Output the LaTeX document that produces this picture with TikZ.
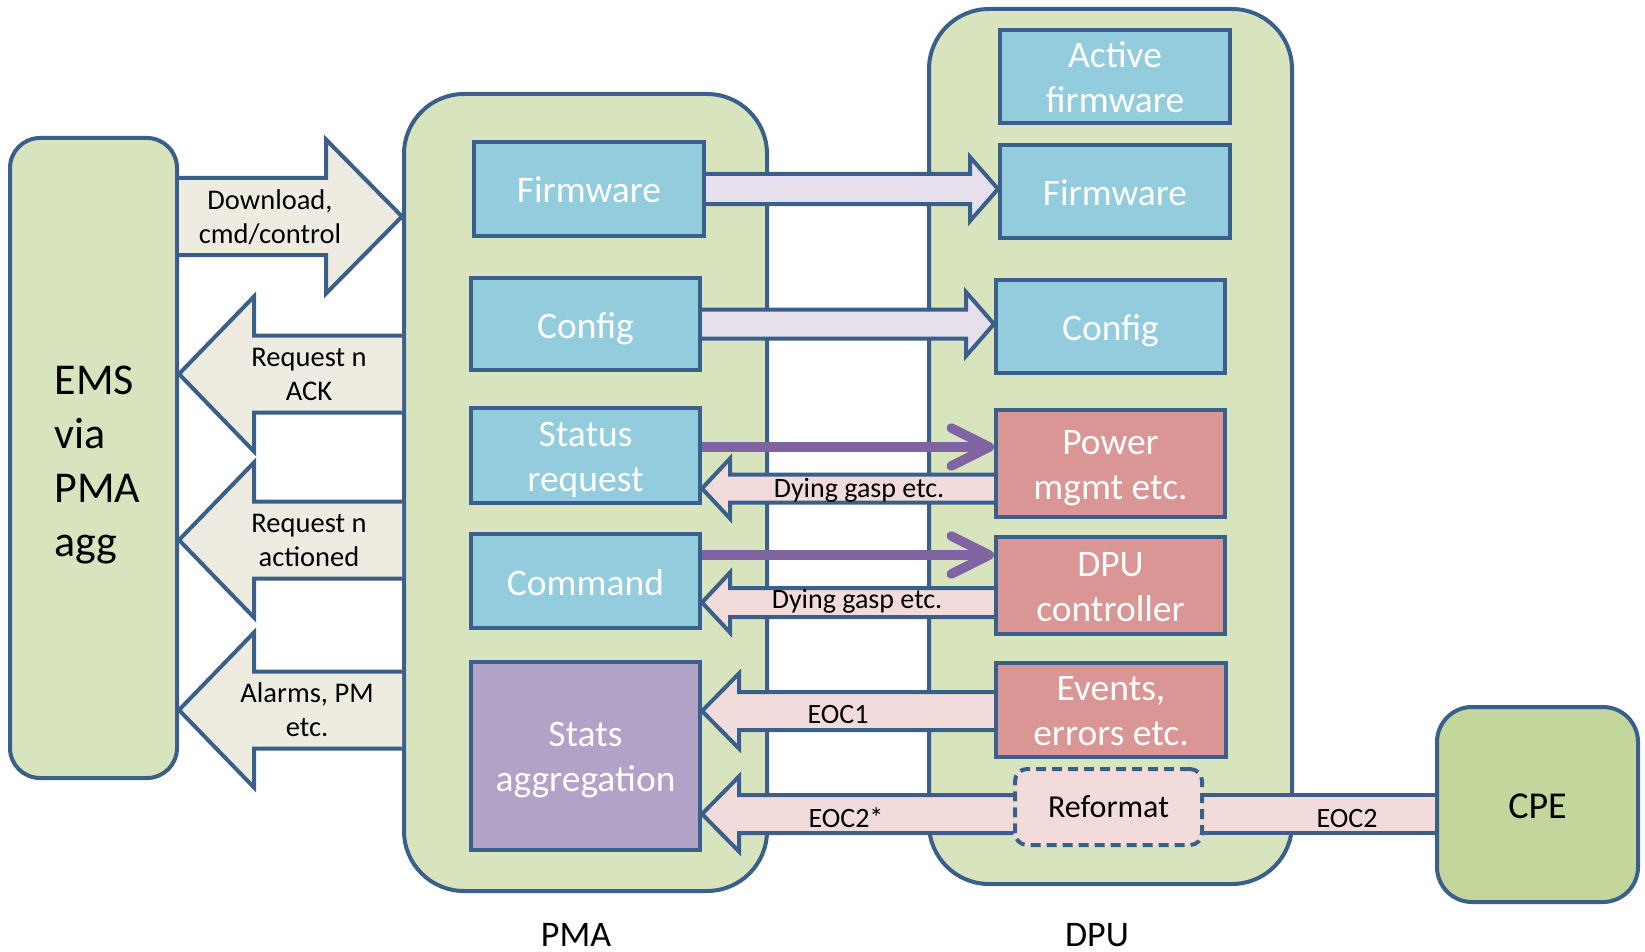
\documentclass[tikz,border=0pt]{standalone}
\usepackage{fontspec}
\setmainfont{Carlito}
\usetikzlibrary{calc,arrows.meta}

\definecolor{edge}{HTML}{3A5F8B}
\definecolor{paleGreen}{HTML}{D7E4BD}
\definecolor{cpeGreen}{HTML}{C3D69B}
\definecolor{aqua}{HTML}{93CDDD}
\definecolor{roseBox}{HTML}{D99694}
\definecolor{lilacBox}{HTML}{B3A2C7}
\definecolor{beige}{HTML}{EEECE1}
\definecolor{blush}{HTML}{F2DCDB}
\definecolor{lavender}{HTML}{E6E0EC}
\definecolor{violet}{HTML}{8064A2}

\pgfdeclarelayer{back}
\pgfdeclarelayer{mid}
\pgfsetlayers{back,mid,main}

\tikzset{
  container/.style={draw=edge, line width=4pt, fill=paleGreen, rounded corners=60pt, inner sep=0pt},
  unit/.style={draw=edge, line width=4pt, inner sep=0pt, minimum width=230pt, text=white,
    align=center, font=\fontsize{37.5}{45}\selectfont},
  % fixed line metrics so that every box label sits at the same height
  oneline/.style={execute at begin node={\rule{0pt}{37pt}}, execute at end node={\rule[-9pt]{0pt}{0pt}}},
  twoline/.style={execute at begin node={\rule{0pt}{80.6pt}}, execute at end node={\rule[-9pt]{0pt}{0pt}}},
  outline/.style={draw=edge, line width=4pt},
  biglabel/.style={align=center, inner sep=0pt, font=\fontsize{28.5}{34}\selectfont},
  smalllabel/.style={anchor=base, inner sep=0pt, font=\fontsize{28}{34}\selectfont},
  signal/.style={draw=violet, line width=9.5pt, -{Straight Barb[length=38pt,width=38pt,round]}},
  caption/.style={anchor=base, inner sep=0pt, font=\fontsize{36}{43}\selectfont},
}

% block arrow: #1 fill, #2 tail, #3 tip, #4 half shaft, #5 half head, #6 head length
\newcommand\blockarrow[6]{%
  \coordinate (ba-b) at ($(#3)!#6!(#2)$);
  \fill[#1] ($(#2)!#4!90:(#3)$) -- ($(ba-b)!#4!90:(#3)$) -- ($(ba-b)!#5!90:(#3)$) -- (#3)
    -- ($(ba-b)!#5!-90:(#3)$) -- ($(ba-b)!#4!-90:(#3)$) -- ($(#2)!#4!-90:(#3)$) -- cycle;
  \draw[outline] ($(#2)!#4!90:(#3)$) -- ($(ba-b)!#4!90:(#3)$) -- ($(ba-b)!#5!90:(#3)$) -- (#3)
    -- ($(ba-b)!#5!-90:(#3)$) -- ($(ba-b)!#4!-90:(#3)$) -- ($(#2)!#4!-90:(#3)$);
}

\begin{document}
\begin{tikzpicture}[x=1pt,y=-1pt]
\useasboundingbox (0,0) rectangle (1645,952);

% outer blocks
\begin{pgfonlayer}{back}
  \node[container, minimum width=167pt, minimum height=640pt, rounded corners=30pt] (ems) at (93.5,458) {};
  \node[container, minimum width=363pt, minimum height=797pt] (pma) at (585.5,492.5) {};
  \node[container, minimum width=363pt, minimum height=875pt] (dpu) at (1110.5,446.5) {};
  \node[container, fill=cpeGreen, minimum width=201pt, minimum height=195pt, rounded corners=35pt,
        text height=27pt, text depth=0pt, font=\fontsize{38}{45}\selectfont] (cpe) at (1537.5,804.5) {CPE};
\end{pgfonlayer}
\node[align=left, inner sep=0pt, font=\fontsize{44}{54}\selectfont] (emstxt)
  at ($(ems.center)+(4,7)$) {EMS\\via\\PMA\\agg};

% PMA functions
\node[unit, oneline, fill=aqua, minimum height=94pt] (pfw) at (589,189) {Firmware};
\node[unit, oneline, fill=aqua, minimum width=229pt, minimum height=92pt] (pcfg) at (585.5,324) {Config};
\node[unit, twoline, fill=aqua, minimum width=229pt, minimum height=95pt] (pstat) at (585.5,455.5) {Status\\request};
\node[unit, oneline, fill=aqua, minimum width=229pt, minimum height=94pt] (pcmd) at (585.5,581) {Command};
\node[unit, twoline, fill=lilacBox, minimum width=229pt, minimum height=188pt] (pagg) at (585.5,756) {Stats\\aggregation};

% DPU functions
\node[unit, twoline, fill=aqua, minimum height=93pt] (dact) at (1115,76.5) {Active\\firmware};
\node[unit, oneline, fill=aqua, minimum height=93pt] (dfw) at (1115,191.5) {Firmware};
\node[unit, oneline, fill=aqua, minimum width=229pt, minimum height=93pt] (dcfg) at (1110.5,326.5) {Config};
\node[unit, twoline, fill=roseBox, minimum width=229pt, minimum height=107pt] (dpow) at (1110.5,463.5) {Power\\mgmt etc.};
\node[unit, twoline, fill=roseBox, minimum width=229pt, minimum height=97pt] (dctl) at (1110.5,585.5) {DPU\\controller};
\node[unit, twoline, fill=roseBox, minimum height=94pt] (devt) at (1111,710) {Events,\\errors etc.};
\node[draw=edge, line width=4pt, dash pattern=on 10pt off 6pt, fill=blush, rounded corners=12pt,
      minimum width=187pt, minimum height=76pt, inner sep=0pt,
      font=\fontsize{32}{38}\selectfont] (reform) at (1108.5,807) {Reformat};

% captions
\node[caption] (pmacap) at (576,946) {PMA};
\node[caption] (dpucap) at (1097,946) {DPU};

\begin{pgfonlayer}{mid}
  % EMS <-> PMA
  \coordinate (dlT) at (ems.east |- 0,216.5);  \coordinate (dlH) at (pma.west |- 0,216.5);
  \blockarrow{beige}{dlT}{dlH}{38.5pt}{77pt}{76pt}
  \coordinate (ackT) at (pma.west |- 0,374);  \coordinate (ackH) at (ems.east |- 0,374);
  \blockarrow{beige}{ackT}{ackH}{38.5pt}{77.5pt}{75pt}
  \coordinate (actT) at (pma.west |- 0,540);  \coordinate (actH) at (ems.east |- 0,540);
  \blockarrow{beige}{actT}{actH}{38.5pt}{77.5pt}{75pt}
  \coordinate (almT) at (pma.west |- 0,710);  \coordinate (almH) at (ems.east |- 0,710);
  \blockarrow{beige}{almT}{almH}{38.5pt}{77.5pt}{75pt}

  % PMA -> DPU downloads
  \coordinate (fwH) at (dfw.west |- pfw.east);
  \blockarrow{lavender}{pfw.east}{fwH}{15pt}{32pt}{28pt}
  \coordinate (cfgH) at (dcfg.west |- pcfg.east);
  \blockarrow{lavender}{pcfg.east}{cfgH}{14.5pt}{32pt}{28pt}

  % DPU -> PMA reports
  \coordinate (dg1T) at (dpow.west |- 0,488.5);  \coordinate (dg1H) at (pstat.east |- 0,488.5);
  \blockarrow{blush}{dg1T}{dg1H}{14pt}{30pt}{28pt}
  \coordinate (dg2T) at (dctl.west |- 0,602.5);  \coordinate (dg2H) at (pcmd.east |- 0,602.5);
  \blockarrow{blush}{dg2T}{dg2H}{14.5pt}{30pt}{28pt}
  \coordinate (e1T) at (devt.west |- 0,711);  \coordinate (e1H) at (pagg.east |- 0,711);
  \blockarrow{blush}{e1T}{e1H}{19pt}{37.5pt}{37pt}
  \coordinate (e2T) at (reform.west |- 0,814);  \coordinate (e2H) at (pagg.east |- 0,814);
  \blockarrow{blush}{e2T}{e2H}{19pt}{37.5pt}{37pt}

  % EOC2 link between Reformat and CPE
  \fill[blush] (reform.east |- 0,795) rectangle (cpe.west |- 0,833);
  \draw[outline] (reform.east |- 0,795) -- (cpe.west |- 0,795);
  \draw[outline] (reform.east |- 0,833) -- (cpe.west |- 0,833);

  % requests and commands
  \draw[signal] (pstat.east |- 0,447) -- (dpow.west |- 0,447);
  \draw[signal] (pcmd.east |- 0,555) -- (dctl.west |- 0,555);
\end{pgfonlayer}

% arrow labels
\node[biglabel] (dlL) at (270,217.5) {Download,\\cmd/control};
\node[biglabel] (ackL) at (309,374) {Request n\\ACK};
\node[biglabel] (actL) at (309,540) {Request n\\actioned};
\node[biglabel] (almL) at (307,710) {Alarms, PM\\etc.};
\node[smalllabel] (dg1L) at (859,497) {Dying gasp etc.};
\node[smalllabel] (dg2L) at (857,608) {Dying gasp etc.};
\node[smalllabel] (e1L) at (838,723) {EOC1};
\node[smalllabel] (e2L) at (846,827) {EOC2*};
\node[smalllabel] (e3L) at (1347,827) {EOC2};
\end{tikzpicture}
\end{document}
